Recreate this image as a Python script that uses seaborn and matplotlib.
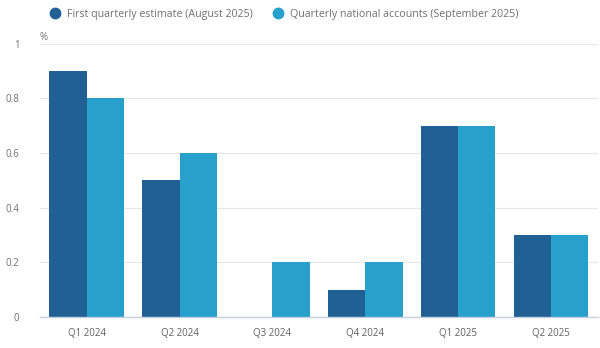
import matplotlib
matplotlib.use("Agg")
import matplotlib.pyplot as plt
import seaborn as sns
import pandas as pd
from matplotlib.lines import Line2D

categories = ["Q1 2024", "Q2 2024", "Q3 2024", "Q4 2024", "Q1 2025", "Q2 2025"]
series_names = ["First quarterly estimate (August 2025)", "Quarterly national accounts (September 2025)"]
first_estimate = [0.9, 0.5, 0.0, 0.1, 0.7, 0.3]
qna = [0.8, 0.6, 0.2, 0.2, 0.7, 0.3]
y_ticks = [0, 0.2, 0.4, 0.6, 0.8, 1]
y_tick_labels = ["0", "0.2", "0.4", "0.6", "0.8", "1"]

colors = ["#206095", "#27a0cc"]

df = pd.DataFrame({
    "quarter": categories * 2,
    "value": first_estimate + qna,
    "series": [series_names[0]] * len(categories) + [series_names[1]] * len(categories),
})

sns.set_theme(style="white")
plt.rcParams["font.family"] = ["Open Sans", "DejaVu Sans"]

fig = plt.figure(figsize=(6, 3.48), dpi=100)
ax = fig.add_axes([0.067, 0.089, 0.929, 0.785])

sns.barplot(data=df, x="quarter", y="value", hue="series", palette=colors,
            order=categories, hue_order=series_names, width=0.8, ax=ax,
            legend=False, saturation=1, edgecolor="none", linewidth=0)

ax.set_xlim(-0.5, len(categories) - 0.5)
ax.set_ylim(0, 1)
ax.set_yticks(y_ticks)
ax.set_yticklabels(y_tick_labels)
ax.set_xlabel("")
ax.set_ylabel("")
ax.yaxis.grid(True, color="#e6e6e6", linewidth=0.8)
ax.set_axisbelow(True)
for s in ["top", "right", "left"]:
    ax.spines[s].set_visible(False)
ax.spines["bottom"].set_color("#c8cfdc")
ax.spines["bottom"].set_linewidth(1.0)

ax.tick_params(axis="y", length=0, labelsize=7, labelcolor="#707070", pad=15)
ax.tick_params(axis="x", which="major", length=0, labelsize=7, labelcolor="#606060", pad=8)
ax.set_xticks([i - 0.5 for i in range(len(categories) + 1)], minor=True)
ax.tick_params(axis="x", which="minor", length=6, color="#c8cfdc", width=1)

fig.text(40 / 600, 1 - 37 / 348, "%", fontsize=7, color="#707070", va="center", ha="left")

handles = [Line2D([0], [0], marker="o", linestyle="none", markersize=7.5,
                  markerfacecolor=c, markeredgecolor=c) for c in colors]
fig.legend(handles, series_names, loc="center left", bbox_to_anchor=(44 / 600, 1 - 14 / 348),
           ncol=2, frameon=False, fontsize=7.7, labelcolor="#707070",
           handletextpad=0.15, columnspacing=1.35, borderaxespad=0, borderpad=0)

fig.savefig("out.png", dpi=100)
